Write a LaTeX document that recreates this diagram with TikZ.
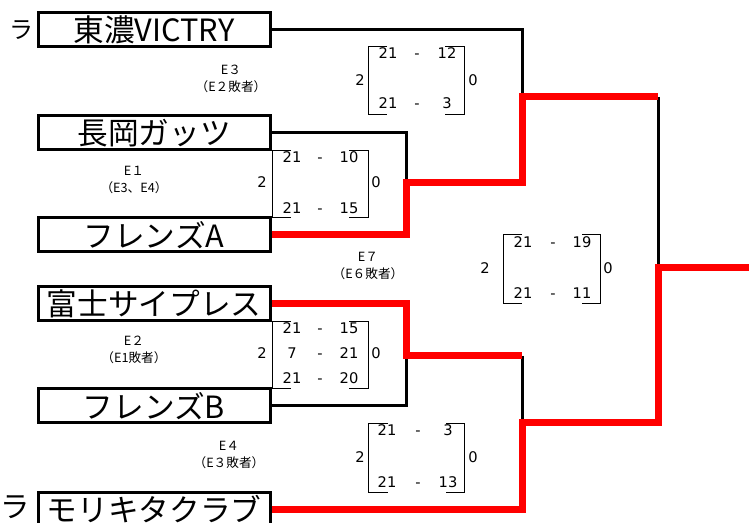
\documentclass[tikz,border=0pt]{standalone}
\usepackage{fontspec}
\setmainfont{DejaVu Sans}
\newfontfamily\jpfont{Noto Sans CJK JP}
\usetikzlibrary{positioning}

\begin{document}
\begin{tikzpicture}[x=0.75pt, y=-0.75pt,
    team/.style={draw, line width=2.25pt, minimum width=174pt, minimum height=25.5pt, inner sep=0pt,
      font=\jpfont\fontsize{23}{23}\selectfont},
    wire/.style={line width=2.25pt},
    winner/.style={line width=5.25pt, red, line join=miter},
    bracket/.style={line width=0.75pt},
    score/.style={font=\fontsize{11}{12}\selectfont, inner sep=0pt, text height=8pt, text depth=0pt},
    match/.style={font=\jpfont\fontsize{9.5}{12.75}\selectfont, align=center, inner sep=0pt}]
    \useasboundingbox (0,0) rectangle (749,523);

    % teams
    \node [team] (toono) at (154,30) {東濃VICTRY};
    \node [team] (nagaoka) at (154,133) {長岡ガッツ};
    \node [team] (friendsA) at (154,235) {フレンズA};
    \node [team] (fuji) at (154,304) {富士サイプレス};
    \node [team] (friendsB) at (154,406) {フレンズB};
    \node [team] (moriki) at (154,509) {モリキタクラブ};
    \node [font=\jpfont\fontsize{18}{18}\selectfont] (ra1) at (21,30) {ラ};
    \node [font=\jpfont\fontsize{22}{22}\selectfont] (ra2) at (15,507) {ラ};

    % junctions
    \coordinate (e1) at (406,183);
    \coordinate (e2) at (406,356);
    \coordinate (e3) at (522,97);
    \coordinate (e4) at (522,423);
    \coordinate (e5) at (658,268);
    \coordinate (champ) at (749,268);

    % losers
    \draw [wire] (toono.east) -| (e3);
    \draw [wire] (nagaoka.east) -| (e1);
    \draw [wire] (friendsB.east) -| (e2);
    \draw [wire] (e2 -| e4) -- (e4);
    \draw [wire] (e3 -| e5) -- (e5);

    % winners
    \draw [winner] (friendsA.east) -| (e1) -| (e3) -- (e3 -| e5);
    \draw [winner] (fuji.east) -| (e2) -- (e2 -| e4);
    \draw [winner] (moriki.east) -| (e4) -| (e5) -- (champ);

    % match labels
    \node [match] (m3) at (231,79) {E３\\（E２敗者）};
    \node [match] (m1) at (134,180) {E１\\（E3、E4）};
    \node [match] (m7) at (368,266) {E７\\（E６敗者）};
    \node [match] (m2) at (134,350) {E２\\（E1敗者）};
    \node [match] (m4) at (229,455) {E４\\（E３敗者）};

    % E3 scores
    \draw [bracket] (387,47) -- (368,47) -- (368,115) -- (387,115);
    \draw [bracket] (445,47) -- (464,47) -- (464,115) -- (445,115);
    \node [score] (s3l) at (360,80) {2};
    \node [score] (s3r) at (473,80) {0};
    \foreach \y/\a/\b in {53/21/12, 103/21/3} {
        \node [score] (s3a\y) at (388,\y) {\a};
        \node [score] (s3d\y) at (417,\y) {-};
        \node [score] (s3b\y) at (447,\y) {\b};
    }

    % E1 scores
    \draw [bracket] (291,151) -- (272,151) -- (272,218) -- (291,218);
    \draw [bracket] (349,151) -- (368,151) -- (368,218) -- (349,218);
    \node [score] (s1l) at (262,182) {2};
    \node [score] (s1r) at (376,182) {0};
    \foreach \y/\a/\b in {157/21/10, 208/21/15} {
        \node [score] (s1a\y) at (292,\y) {\a};
        \node [score] (s1d\y) at (320,\y) {-};
        \node [score] (s1b\y) at (349,\y) {\b};
    }

    % E2 scores
    \draw [bracket] (291,322) -- (272,322) -- (272,389) -- (291,389);
    \draw [bracket] (349,322) -- (368,322) -- (368,389) -- (349,389);
    \node [score] (s2l) at (262,353) {2};
    \node [score] (s2r) at (376,353) {0};
    \foreach \y/\a/\b in {328/21/15, 353/7/21, 378/21/20} {
        \node [score] (s2a\y) at (292,\y) {\a};
        \node [score] (s2d\y) at (320,\y) {-};
        \node [score] (s2b\y) at (349,\y) {\b};
    }

    % E4 scores
    \draw [bracket] (388,424) -- (368,424) -- (368,492) -- (388,492);
    \draw [bracket] (446,424) -- (464,424) -- (464,492) -- (446,492);
    \node [score] (s4l) at (360,457) {2};
    \node [score] (s4r) at (473,457) {0};
    \foreach \y/\a/\b in {430/21/3, 482/21/13} {
        \node [score] (s4a\y) at (387,\y) {\a};
        \node [score] (s4d\y) at (418,\y) {-};
        \node [score] (s4b\y) at (448,\y) {\b};
    }

    % E7 scores
    \draw [bracket] (522,235) -- (503,235) -- (503,304) -- (522,304);
    \draw [bracket] (582,235) -- (600,235) -- (600,304) -- (582,304);
    \node [score] (s7l) at (485,268) {2};
    \node [score] (s7r) at (608,268) {0};
    \foreach \y/\a/\b in {242/21/19, 293/21/11} {
        \node [score] (s7a\y) at (523,\y) {\a};
        \node [score] (s7d\y) at (553,\y) {-};
        \node [score] (s7b\y) at (582,\y) {\b};
    }
\end{tikzpicture}
\end{document}
